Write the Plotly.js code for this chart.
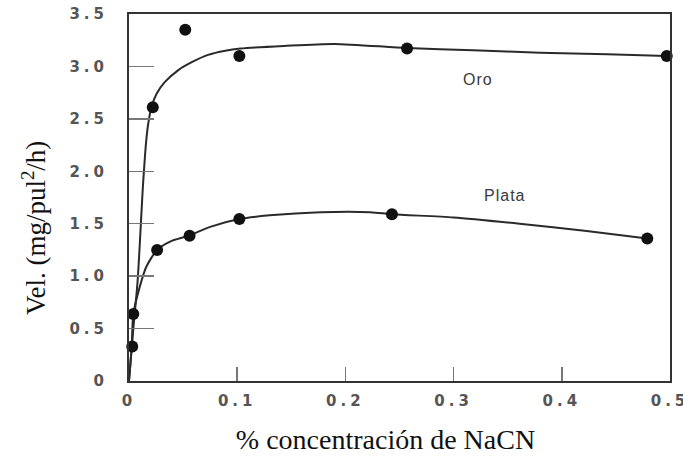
<!DOCTYPE html>
<html>
<head>
<meta charset="utf-8">
<script src="https://cdn.plot.ly/plotly-3.0.1.min.js"></script>
<style>html,body{margin:0;padding:0;background:#fff;}#chart{width:683px;height:457px;}</style>
</head>
<body>
<div id="chart"></div>
<script>
// Measured points
var oroX = [0.003, 0.022, 0.052, 0.102, 0.257, 0.497];
var oroY = [0.33, 2.61, 3.35, 3.10, 3.17, 3.10];
var plataX = [0.004, 0.026, 0.056, 0.102, 0.243, 0.479];
var plataY = [0.64, 1.25, 1.385, 1.545, 1.59, 1.36];

// Fitted curves
var oroCurveX = [0, 0.004, 0.008, 0.013, 0.016, 0.018, 0.021, 0.0255, 0.033, 0.0456, 0.058, 0.073, 0.089, 0.103, 0.143, 0.19, 0.257, 0.318, 0.38, 0.442, 0.497];
var oroCurveY = [0, 0.5, 0.96, 1.88, 2.3, 2.47, 2.62, 2.74, 2.85, 2.965, 3.04, 3.11, 3.15, 3.17, 3.195, 3.215, 3.175, 3.155, 3.13, 3.115, 3.10];
var plataCurveX = [0, 0.0025, 0.004, 0.010, 0.016, 0.026, 0.038, 0.055, 0.075, 0.102, 0.130, 0.177, 0.223, 0.243, 0.30, 0.361, 0.423, 0.479];
var plataCurveY = [0, 0.33, 0.64, 0.90, 1.09, 1.25, 1.33, 1.385, 1.47, 1.545, 1.58, 1.61, 1.61, 1.59, 1.56, 1.50, 1.43, 1.36];

var xTickVals = [0, 0.1, 0.2, 0.3, 0.4, 0.5];
var xTickText = ["0", "0.1", "0.2", "0.3", "0.4", "0.5"];
var yTickVals = [0, 0.5, 1.0, 1.5, 2.0, 2.5, 3.0, 3.5];
var yTickText = ["0", "0.5", "1.0", "1.5", "2.0", "2.5", "3.0", "3.5"];

var seriesLabels = ["Oro", "Plata"];
var labelX = [0.323, 0.347];
var labelY = [2.88, 1.77];

function wide(t) { return '<span style="letter-spacing:4px">' + t + '</span>'; }

var lineStyle = {color: '#2a2a2a', width: 2, shape: 'spline', smoothing: 0.7};
var markerStyle = {color: '#111', size: 12, symbol: 'circle'};

var traces = [
  {x: oroCurveX, y: oroCurveY, mode: 'lines', line: lineStyle, hoverinfo: 'skip', cliponaxis: false},
  {x: plataCurveX, y: plataCurveY, mode: 'lines', line: lineStyle, hoverinfo: 'skip', cliponaxis: false},
  {x: oroX, y: oroY, mode: 'markers', marker: markerStyle, name: 'Oro', cliponaxis: false},
  {x: plataX, y: plataY, mode: 'markers', marker: markerStyle, name: 'Plata', cliponaxis: false}
];

var tickFont = {family: 'DejaVu Sans', size: 15, color: '#555', weight: 700};
var nb = '&nbsp;';

var layout = {
  width: 683, height: 457,
  margin: {l: 129, r: 13, t: 14, b: 76},
  paper_bgcolor: '#fff', plot_bgcolor: '#fff',
  showlegend: false,
  xaxis: {
    range: [0, 0.5], tickmode: 'array', tickvals: xTickVals, ticktext: xTickText.map(wide),
    ticks: 'inside', ticklen: 14, tickwidth: 1.5, tickcolor: '#777',
    showline: true, linecolor: '#333', linewidth: 2, mirror: true, ticklabeloverflow: 'allow',
    showgrid: false, zeroline: false, tickfont: tickFont, ticklabelstandoff: 5,
    title: {text: '% concentración de NaCN' + nb + nb + nb + nb, font: {family: 'Liberation Serif', size: 28, color: '#111'}, standoff: 20}
  },
  yaxis: {
    range: [0, 3.5], tickmode: 'array', tickvals: yTickVals, ticktext: yTickText.map(wide),
    ticks: 'inside', ticklen: 25, tickwidth: 1.5, tickcolor: '#777',
    showline: true, linecolor: '#333', linewidth: 2, mirror: true, ticklabeloverflow: 'allow',
    showgrid: false, zeroline: false, tickfont: tickFont, ticklabelstandoff: 16,
    title: {text: 'Vel. (mg/pul<sup>2</sup>/h)' + nb + nb + nb + nb + nb + nb + nb + nb + nb, font: {family: 'Liberation Serif', size: 27, color: '#111'}, standoff: 16}
  },
  annotations: seriesLabels.map(function (t, i) {
    return {x: labelX[i], y: labelY[i], xref: 'x', yref: 'y', text: '<span style="letter-spacing:1px">' + t + '</span>', showarrow: false,
      font: {family: 'Liberation Sans', size: 16, color: '#3a3a3a'}};
  })
};

Plotly.newPlot('chart', traces, layout, {displayModeBar: false, staticPlot: true});
</script>
</body>
</html>
